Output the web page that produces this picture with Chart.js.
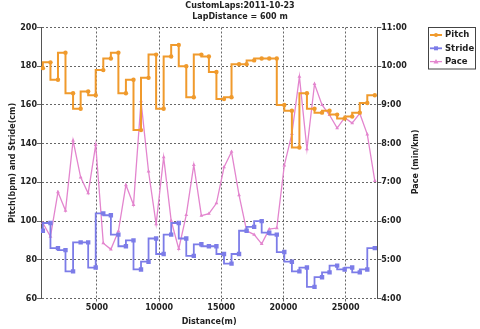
<!DOCTYPE html>
<html lang="en">
  <head>
    <meta charset="UTF-8">
    <title>CustomLaps 2011-10-23</title>
    <script src="https://cdn.jsdelivr.net/npm/chart.js"></script>
    <style>
      html, body {
        margin: 0;
        padding: 0;
        background: #fff
      }

      #wrap {
        width: 480px;
        height: 329px
      }
    </style>
  </head>
  <body>
    <div id="wrap"><canvas id="lap-chart" width="480" height="329"></canvas></div>
    <script>
      // lap end distances (m)
      const distance = [650, 1260, 1865, 2470, 3080, 3690, 4295, 4900, 5510, 6120, 6725, 7330, 7940, 8545, 9150,
        9760, 10365, 10970, 11580, 12185, 12790, 13400, 14005, 14610, 15220, 15825, 16430, 17040, 17645, 18250,
        18860, 19465, 20070, 20680, 21285, 21890, 22500, 23105, 23710, 24320, 24925, 25530, 26140, 26745, 27350];
      // bpm
      const pitch = [179, 182, 173, 187, 166, 158, 167, 165, 178, 184, 187, 166, 173, 147, 174,
        186, 158, 185, 191, 180, 164, 186, 185, 177, 163, 164, 181, 181, 183, 184,
        184, 184, 160, 157, 138, 166, 158, 156, 157, 155, 153, 154, 156, 161, 165];
      // cm
      const stride = [95, 99, 86, 85, 74, 89, 89, 76, 104, 103, 93, 87, 90, 75, 79,
        91, 83, 93, 99, 91, 82, 88, 87, 87, 83, 78, 83, 95, 97, 100,
        94, 93, 84, 79, 74, 76, 66, 71, 73.5, 77, 75, 76, 73.5, 75, 86];
      // min/km (decimal minutes)
      const pace = [5.95, 5.60, 6.75, 6.27, 8.08, 7.13, 6.72, 7.97, 5.43, 5.27, 5.74, 6.93, 6.42, 9.10, 7.28,
        5.92, 7.65, 6.01, 5.28, 6.16, 7.45, 6.14, 6.19, 6.46, 7.39, 7.79, 6.67, 5.75, 5.65, 5.41,
        5.79, 5.82, 7.44, 8.25, 9.73, 7.86, 9.54, 9.00, 8.74, 8.40, 8.67, 8.53, 8.78, 8.24, 7.04];

      const distanceTicks = [5000, 10000, 15000, 20000, 25000];
      const leftTicks = [60, 80, 100, 120, 140, 160, 180, 200];
      const paceTicks = [4, 5, 6, 7, 8, 9, 10, 11];

      const toPoints = ys => ys.map((y, i) => ({ x: distance[i], y: y }));
      const fmtPace = v => {
        const m = Math.floor(v);
        const s = Math.round((v - m) * 60);
        return m + ':' + String(s).padStart(2, '0');
      };

      Chart.defaults.font.family = '"DejaVu Sans", sans-serif';
      Chart.defaults.font.size = 8;
      Chart.defaults.font.weight = 'bold';
      Chart.defaults.color = '#222';

      const gridColor = '#666';
      const axisColor = '#555';

      // boxed legend + right axis title (reads bottom to top)
      const extras = {
        id: 'extras',
        afterDraw(chart) {
          const ctx = chart.ctx;
          ctx.save();
          ctx.strokeStyle = '#444';
          ctx.lineWidth = 1;
          ctx.strokeRect(428.5, 27.5, 47, 41.5);
          ctx.font = 'bold 8.5px "DejaVu Sans"';
          ctx.textBaseline = 'middle';
          ctx.textAlign = 'left';
          chart.data.datasets.forEach((ds, i) => {
            const y = 35 + i * 13.3;
            ctx.strokeStyle = ds.borderColor;
            ctx.fillStyle = ds.borderColor;
            ctx.lineWidth = ds.borderWidth;
            ctx.beginPath();
            ctx.moveTo(430, y);
            ctx.lineTo(442, y);
            ctx.stroke();
            ctx.beginPath();
            if (ds.pointStyle === 'rect') {
              ctx.rect(434, y - 2, 4, 4);
            } else if (ds.pointStyle === 'triangle') {
              ctx.moveTo(436, y - 2.5);
              ctx.lineTo(438.5, y + 1.8);
              ctx.lineTo(433.5, y + 1.8);
              ctx.closePath();
            } else {
              ctx.arc(436, y, 2, 0, Math.PI * 2);
            }
            ctx.fill();
            ctx.fillStyle = '#222';
            ctx.fillText(ds.label, 445, y);
          });
          ctx.translate(415.7, 162);
          ctx.rotate(-Math.PI / 2);
          ctx.textAlign = 'center';
          ctx.font = 'bold 8px "DejaVu Sans"';
          ctx.fillText('Pace (min/km)', 0, 0);
          ctx.restore();
        }
      };

      const ctx = document.getElementById('lap-chart').getContext('2d');
      const lapChart = new Chart(ctx, {
        type: 'line',
        data: {
          datasets: [{
            label: 'Pitch',
            data: toPoints(pitch),
            yAxisID: 'y',
            borderColor: '#F09A2C',
            backgroundColor: '#F09A2C',
            borderWidth: 2,
            stepped: 'after',
            pointStyle: 'circle',
            pointRadius: 2.2,
            pointBorderWidth: 0,
            fill: false
          }, {
            label: 'Stride',
            data: toPoints(stride),
            yAxisID: 'y',
            borderColor: '#7C7CE8',
            backgroundColor: '#7C7CE8',
            borderWidth: 1.8,
            stepped: 'after',
            pointStyle: 'rect',
            pointRadius: 3.1,
            pointBorderWidth: 0,
            fill: false
          }, {
            label: 'Pace',
            data: toPoints(pace),
            yAxisID: 'yPace',
            borderColor: '#E385CE',
            backgroundColor: '#E385CE',
            borderWidth: 1.3,
            tension: 0,
            pointStyle: 'triangle',
            pointRadius: 2.2,
            pointBorderWidth: 0,
            fill: false
          }]
        },
        options: {
          responsive: false,
          animation: false,
          layout: { padding: 0 },
          plugins: {
            legend: { display: false },
            tooltip: { enabled: false },
            title: {
              display: true,
              text: ['CustomLaps:2011-10-23', 'LapDistance = 600 m'],
              color: '#222',
              font: { size: 8, weight: 'bold', lineHeight: 1.3 },
              padding: { top: 1, bottom: 5.7 }
            }
          },
          scales: {
            x: {
              type: 'linear',
              min: 500,
              max: 27550,
              afterBuildTicks: s => { s.ticks = distanceTicks.map(v => ({ value: v })); },
              afterFit: s => { s.height = 30.5; },
              grid: { color: gridColor, tickLength: 3, tickBorderDash: [] },
              border: { display: false, dash: [2, 2] },
              ticks: { padding: 2, maxRotation: 0, callback: v => String(v) },
              title: { display: true, text: 'Distance(m)', padding: { top: 0, bottom: 2.5 } }
            },
            y: {
              position: 'left',
              min: 60,
              max: 200,
              afterBuildTicks: s => { s.ticks = leftTicks.map(v => ({ value: v })); },
              afterFit: s => { s.width = 41; },
              grid: { color: gridColor, tickLength: 4, tickBorderDash: [] },
              border: { display: true, color: axisColor, dash: [2, 2] },
              ticks: { padding: 0 },
              title: { display: true, text: 'Pitch(bpm) and Stride(cm)', padding: { top: 8, bottom: 0 } }
            },
            yPace: {
              position: 'right',
              min: 4,
              max: 11,
              afterBuildTicks: s => { s.ticks = paceTicks.map(v => ({ value: v })); },
              afterFit: s => { s.width = 102.7; },
              grid: { drawOnChartArea: false, color: axisColor, tickLength: 4 },
              border: { display: true, color: axisColor },
              ticks: { padding: 0, callback: v => fmtPace(v) }
            }
          }
        },
        plugins: [extras]
      });
    </script>
  </body>
</html>
